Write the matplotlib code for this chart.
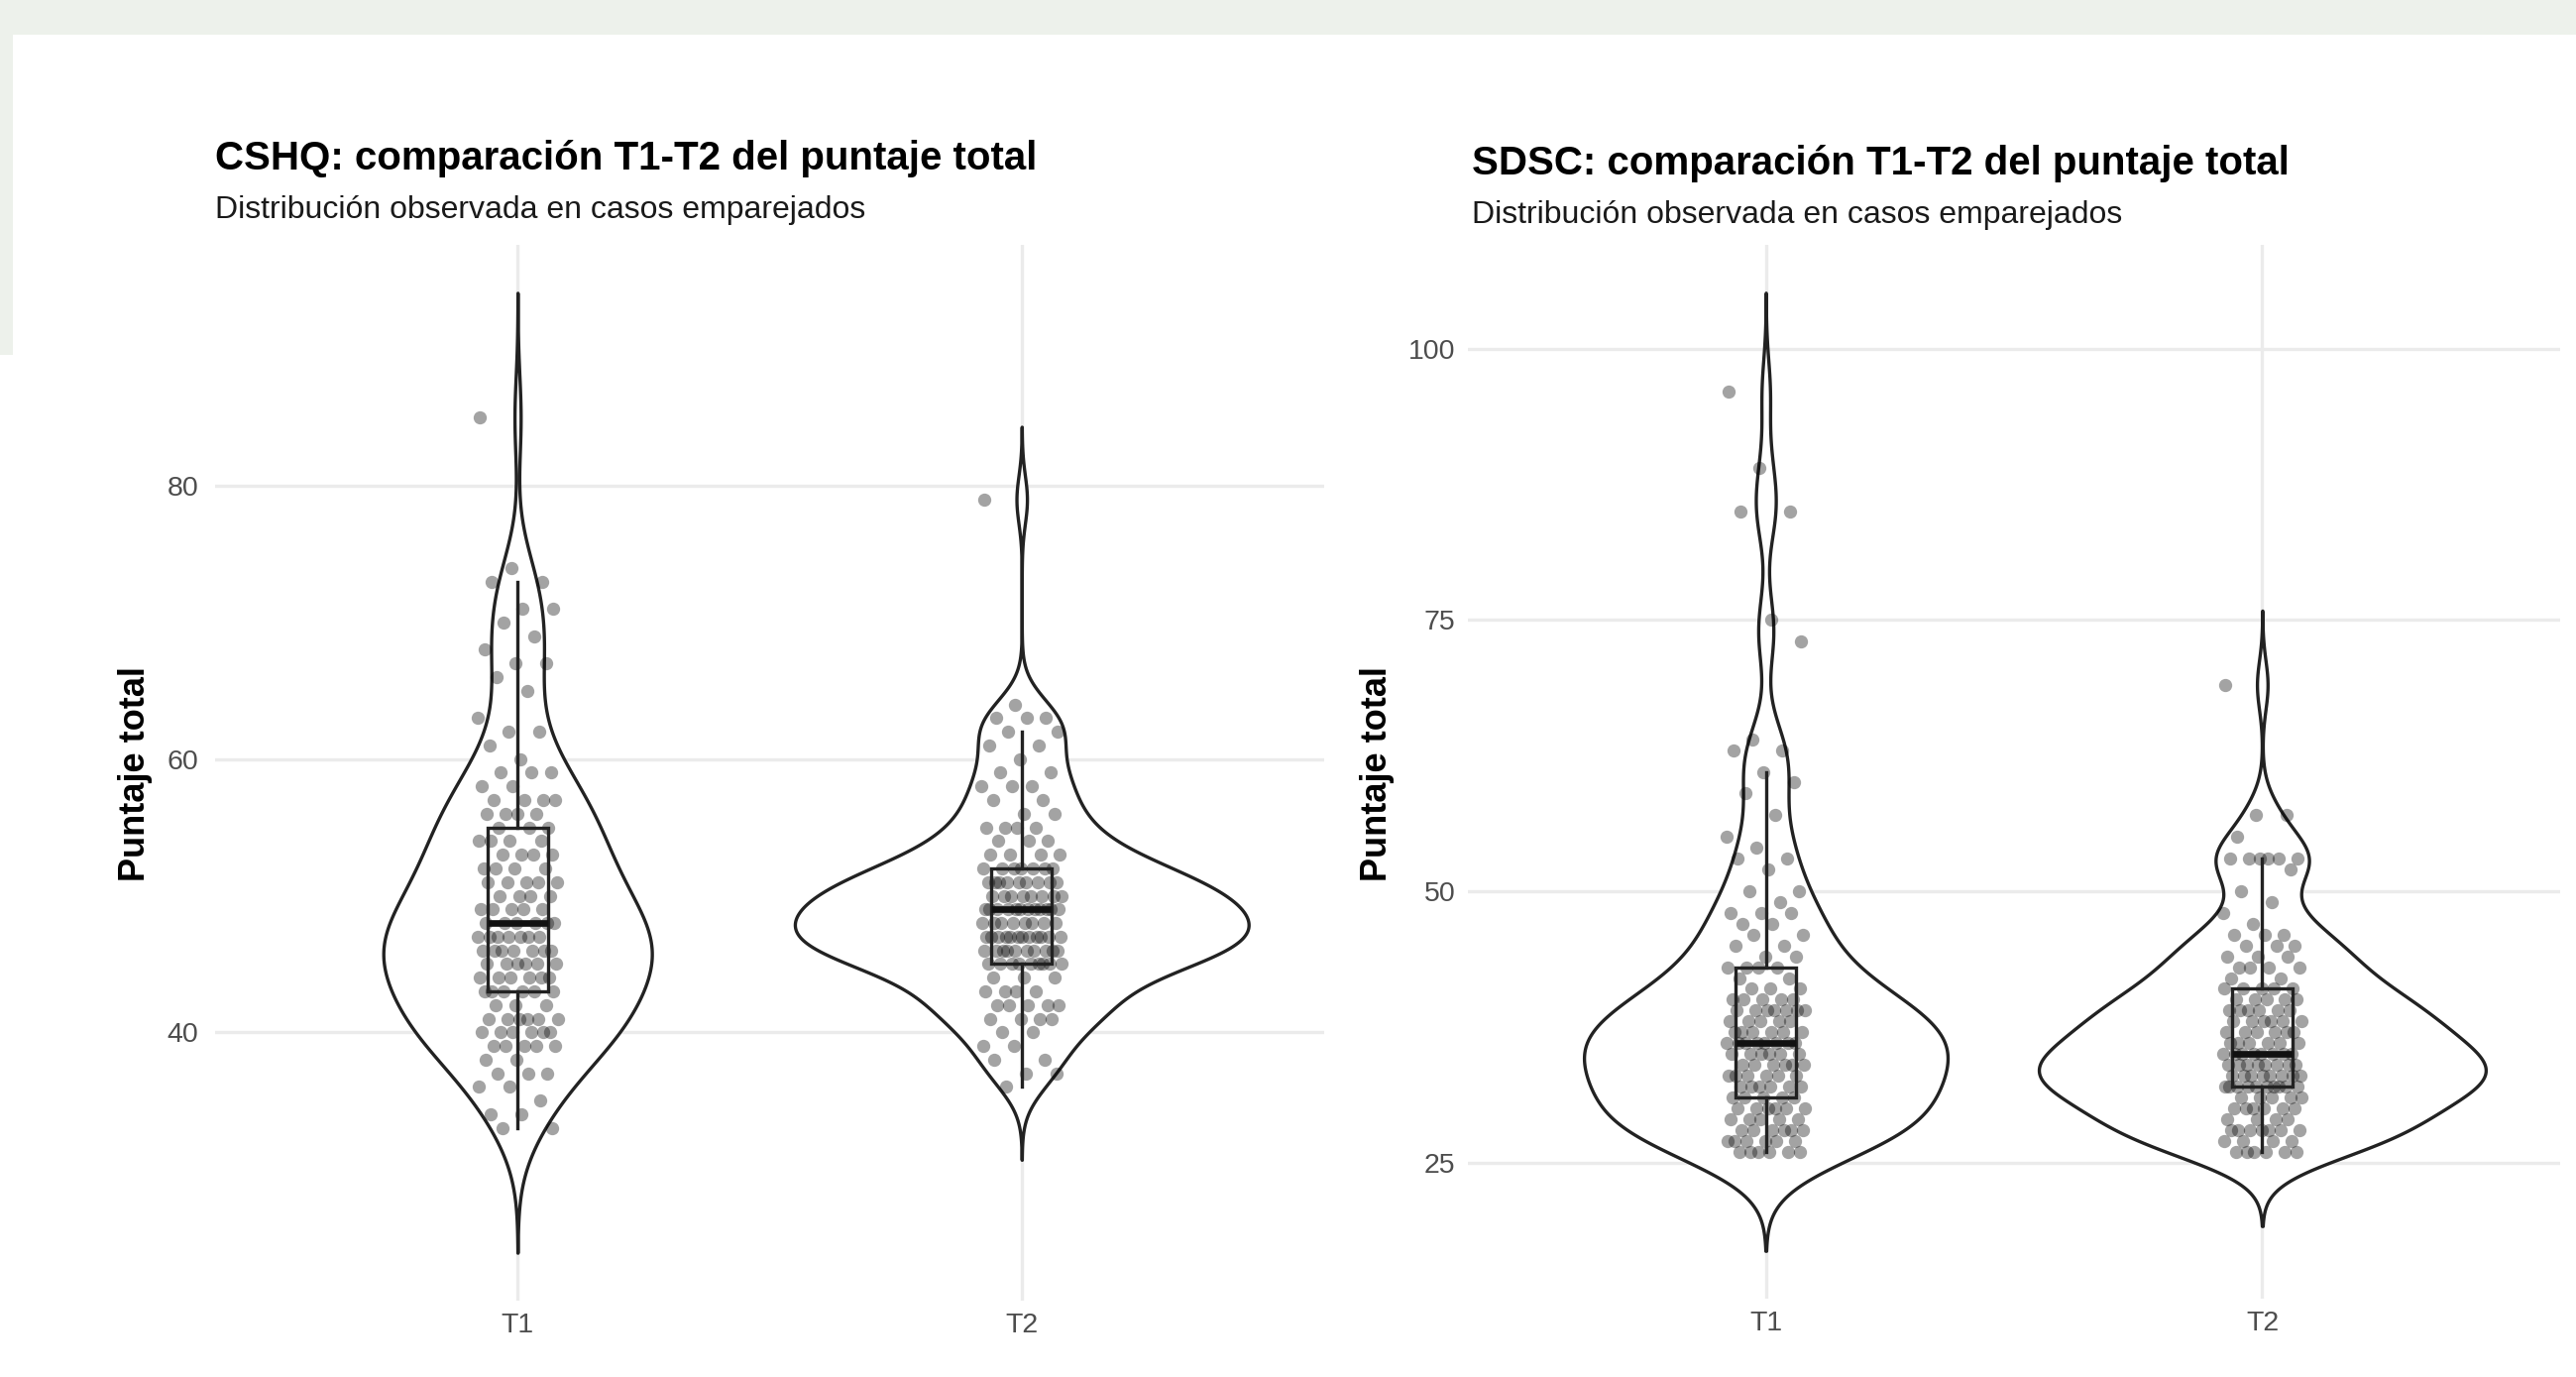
import numpy as np
import matplotlib
matplotlib.use('Agg')
import matplotlib.pyplot as plt
from matplotlib.patches import Rectangle

plt.rcParams['font.family'] = ['Liberation Sans', 'DejaVu Sans']

W, H = 2599, 1389

grupos = ['T1', 'T2']

# CSHQ: puntaje total por caso (valor, frecuencia)
cshq_t1_val = [33, 34, 35, 36, 37, 38, 39, 40, 41, 42, 43, 44, 45, 46, 47, 48, 49, 50, 51, 52, 53,
               54, 55, 56, 57, 58, 59, 60, 61, 62, 63, 65, 66, 67, 68, 69, 70, 71, 73, 74, 85]
cshq_t1_n = [2, 2, 1, 2, 3, 2, 5, 6, 6, 3, 6, 6, 6, 7, 7, 6, 5, 4, 5, 4, 4,
             4, 3, 4, 4, 2, 3, 1, 1, 2, 1, 1, 1, 2, 1, 1, 1, 2, 2, 1, 1]
cshq_t2_val = [36, 37, 38, 39, 40, 41, 42, 43, 44, 45, 46, 47, 48, 49, 50, 51, 52, 53, 54, 55,
               56, 57, 58, 59, 60, 61, 62, 63, 64, 79]
cshq_t2_n = [1, 2, 2, 2, 2, 4, 5, 4, 3, 9, 10, 12, 8, 12, 8, 9, 7, 4, 3, 4,
             2, 2, 3, 2, 1, 2, 2, 3, 1, 1]

# SDSC: puntaje total por caso (valor, frecuencia)
sdsc_t1_val = [26, 27, 28, 29, 30, 31, 32, 33, 34, 35, 36, 37, 38, 39, 40, 41, 42, 43, 44, 45,
               46, 47, 48, 49, 50, 52, 53, 54, 55, 57, 59, 60, 61, 63, 64, 73, 75, 85, 89, 96]
sdsc_t1_n = [6, 6, 6, 5, 6, 5, 6, 6, 6, 6, 8, 6, 5, 7, 5, 3, 2, 4, 2, 2,
             2, 2, 3, 1, 2, 1, 2, 1, 1, 1, 1, 1, 1, 2, 1, 1, 1, 2, 1, 1]
sdsc_t2_val = [26, 27, 28, 29, 30, 31, 32, 33, 34, 35, 36, 37, 38, 39, 40, 41, 42, 43, 44, 45,
               46, 47, 48, 49, 50, 52, 53, 55, 57, 69]
sdsc_t2_n = [6, 4, 7, 4, 6, 5, 10, 8, 8, 8, 6, 6, 6, 6, 5, 5, 2, 4, 3, 3,
             3, 1, 1, 1, 1, 1, 6, 1, 2, 1]

cshq_ticks = [40, 60, 80]
sdsc_ticks = [25, 50, 75, 100]

titulo_cshq = 'CSHQ: comparación T1-T2 del puntaje total'
titulo_sdsc = 'SDSC: comparación T1-T2 del puntaje total'
subtitulo = 'Distribución observada en casos emparejados'
etiqueta_y = 'Puntaje total'

LINEA = '#222222'


def bw_nrd0(x):
    sd = np.std(x, ddof=1)
    q75, q25 = np.percentile(x, [75, 25])
    return 0.9 * min(sd, (q75 - q25) / 1.34) * len(x) ** -0.2


def densidad(x):
    bw = bw_nrd0(x)
    y = np.linspace(x.min() - 3 * bw, x.max() + 3 * bw, 512)
    z = (y[:, None] - x[None, :]) / bw
    d = np.exp(-0.5 * z ** 2).sum(axis=1) / (len(x) * bw * np.sqrt(2 * np.pi))
    return y, d


def jitter(n, ancho=0.08):
    k = np.arange(n)
    return ((k * 0.6180339887 + 0.31) % 1.0 * 2 - 1) * ancho


def panel(ax, datos, ticks, pad_y):
    dens = [densidad(x) for x in datos]
    dmax = max(d.max() for _, d in dens)
    for i, (x, (yy, dd)) in enumerate(zip(datos, dens)):
        pos = i + 1
        hw = 0.45 * dd / dmax
        ax.fill_betweenx(yy, pos - hw, pos + hw, facecolor='white',
                         edgecolor=LINEA, lw=2.4, zorder=2)
        ax.scatter(pos + jitter(len(x)), x, s=92, color='black', alpha=0.36,
                   lw=0, zorder=3)
        q1, med, q3 = np.percentile(x, [25, 50, 75])
        iqr = q3 - q1
        lo = x[x >= q1 - 1.5 * iqr].min()
        hi = x[x <= q3 + 1.5 * iqr].max()
        ax.plot([pos, pos], [q3, hi], color=LINEA, lw=2.4, zorder=4)
        ax.plot([pos, pos], [lo, q1], color=LINEA, lw=2.4, zorder=4)
        ax.add_patch(Rectangle((pos - 0.06, q1), 0.12, q3 - q1, fill=False,
                               ec=LINEA, lw=2.4, zorder=4))
        ax.plot([pos - 0.06, pos + 0.06], [med, med], color='#111111', lw=4.8,
                solid_capstyle='butt', zorder=5)

    ymin = min(yy[0] for yy, _ in dens)
    ymax = max(yy[-1] for yy, _ in dens)
    rango = ymax - ymin
    ax.set_ylim(ymin - 0.05 * rango, ymax + 0.05 * rango)
    ax.set_xlim(0.4, 2.6)
    ax.set_xticks([1, 2])
    ax.set_xticklabels(grupos)
    ax.set_yticks(ticks)
    ax.grid(True, color='#ebebeb', lw=2.4)
    ax.set_axisbelow(True)
    for s in ax.spines.values():
        s.set_visible(False)
    ax.tick_params(length=0, labelsize=20.5, labelcolor='#4d4d4d')
    ax.tick_params(axis='y', pad=pad_y)
    ax.tick_params(axis='x', pad=9)


def caja(x0, y0, x1, y1):
    return [x0 / W, 1 - y1 / H, (x1 - x0) / W, (y1 - y0) / H]


fig = plt.figure(figsize=(W / 100, H / 100), dpi=100)
fig.patch.set_facecolor('white')

# franja gris del borde
fondo = '#edf1eb'
fig.patches.append(Rectangle((0, 1 - 35 / H), 1, 35 / H, transform=fig.transFigure,
                             facecolor=fondo, edgecolor='none', zorder=0))
fig.patches.append(Rectangle((0, 1 - 358 / H), 13 / W, 358 / H, transform=fig.transFigure,
                             facecolor=fondo, edgecolor='none', zorder=0))

ax1 = fig.add_axes(caja(217, 247, 1336, 1312))
ax2 = fig.add_axes(caja(1481, 247, 2583, 1310))
ax1.patch.set_alpha(0)
ax2.patch.set_alpha(0)

cshq = [np.repeat(cshq_t1_val, cshq_t1_n).astype(float),
        np.repeat(cshq_t2_val, cshq_t2_n).astype(float)]
sdsc = [np.repeat(sdsc_t1_val, sdsc_t1_n).astype(float),
        np.repeat(sdsc_t2_val, sdsc_t2_n).astype(float)]

panel(ax1, cshq, cshq_ticks, 12)
panel(ax2, sdsc, sdsc_ticks, 9)

fig.text(217 / W, 1 - 171 / H, titulo_cshq, fontsize=29, fontweight='bold', va='baseline')
fig.text(217 / W, 1 - 220 / H, subtitulo, fontsize=23, va='baseline', color='#1a1a1a')
fig.text(1485 / W, 1 - 176 / H, titulo_sdsc, fontsize=29, fontweight='bold', va='baseline')
fig.text(1485 / W, 1 - 225 / H, subtitulo, fontsize=23, va='baseline', color='#1a1a1a')

fig.text(136 / W, 1 - 781 / H, etiqueta_y, rotation=90, ha='center', va='center',
         fontsize=26, fontweight='bold')
fig.text(1389 / W, 1 - 781 / H, etiqueta_y, rotation=90, ha='center', va='center',
         fontsize=26, fontweight='bold')

fig.savefig('out.png', dpi=100, facecolor='white')
